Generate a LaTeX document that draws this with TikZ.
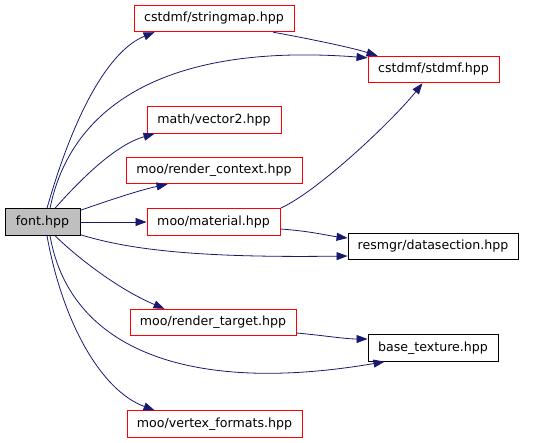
\documentclass[tikz,border=0pt]{standalone}
\usepackage{fontspec}
\setmainfont{DejaVu Sans}
\usetikzlibrary{arrows.meta}
\definecolor{edgeblue}{HTML}{191970}
\definecolor{rootgray}{HTML}{BFBFBF}

\begin{document}
\begin{tikzpicture}[x=1pt, y=-1pt,
    file/.style={draw=red, line width=0.9pt, inner sep=0pt, minimum height=26.5pt,
        font=\fontsize{12.6}{14}\selectfont},
    known/.style={file, draw=black},
    root/.style={known, fill=rootgray},
    dep/.style={edgeblue, line width=0.8pt, -{Triangle[length=11pt,width=8pt]}}]
    \useasboundingbox (0,0) rectangle (546,442);

    % Draw the included headers
    \node[root, minimum width=75pt] (font) at (42.5,222) {font.hpp};
    \node[file, minimum width=160pt] (stringmap) at (214,18.5) {cstdmf/stringmap.hpp};
    \node[file, minimum width=131pt] (stdmf) at (433.5,69.5) {cstdmf/stdmf.hpp};
    \node[file, minimum width=134pt] (vector2) at (214,120) {math/vector2.hpp};
    \node[file, minimum width=176pt] (context) at (214,170.5) {moo/render\_context.hpp};
    \node[file, minimum width=133pt] (material) at (213.5,222) {moo/material.hpp};
    \node[known, minimum width=170pt] (datasection) at (433,246.5) {resmgr/datasection.hpp};
    \node[file, minimum width=166pt] (target) at (213,322.5) {moo/render\_target.hpp};
    \node[known, minimum width=130pt] (texture) at (433,348) {base\_texture.hpp};
    \node[file, minimum width=175pt] (vertex) at (214.5,424) {moo/vertex\_formats.hpp};

    % Draw the include edges leaving font.hpp
    \draw[dep] ([xshift=4.5pt]font.north) .. controls (75,110) and (110,50) .. ([xshift=21pt]stringmap.south west);
    \draw[dep] ([xshift=7.5pt]font.north) .. controls (70,110) and (160,42) .. ([yshift=-2pt]stdmf.north west);
    \draw[dep] ([xshift=12.5pt]font.north) .. controls (80,180) and (115,145) .. ([xshift=8pt]vector2.south west);
    \draw[dep] ([yshift=-2pt]font.north east) .. controls (110,200) and (140,190) .. ([xshift=42pt]context.south west);
    \draw[dep] (font.east) -- (material.west);
    \draw[dep] ([yshift=1pt]font.south east) .. controls (130,250) and (200,258) .. ([yshift=-9.5pt]datasection.west);
    \draw[dep] ([xshift=12.5pt]font.south) .. controls (80,260) and (120,290) .. ([xshift=35pt]target.north west);
    \draw[dep] ([xshift=7.5pt]font.south) .. controls (70,350) and (190,395) .. ([xshift=17pt]texture.south west);
    \draw[dep] ([xshift=4.5pt]font.south) .. controls (62,320) and (100,390) .. ([xshift=28pt]vertex.north west);

    % Draw the edges between the other headers
    \draw[dep] ([xshift=59pt]stringmap.south) .. controls (300,37) and (350,47) .. ([xshift=10pt]stdmf.north west);
    \draw[dep] (material.north east) .. controls (320,190) and (395,118) .. ([xshift=-11pt]stdmf.south);
    \draw[dep] ([yshift=-7pt]material.east) .. controls (310,231) and (330,236) .. ([yshift=8.5pt]datasection.west);
    \draw[dep] ([yshift=-10.5pt]target.east) .. controls (320,335) and (345,339) .. ([yshift=9pt]texture.west);
\end{tikzpicture}
\end{document}
